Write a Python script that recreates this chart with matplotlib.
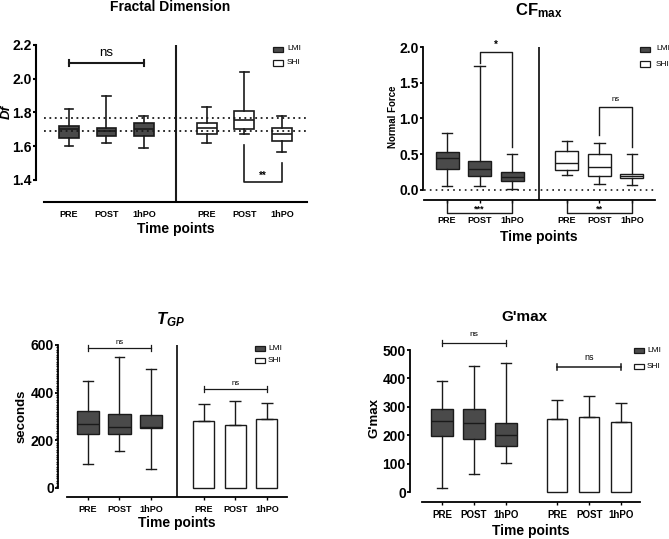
import numpy as np
import matplotlib
matplotlib.use("Agg")
import matplotlib.pyplot as plt
from matplotlib.patches import Rectangle

plt.rcParams['font.family'] = ['Liberation Sans', 'DejaVu Sans']
plt.rcParams['mathtext.fontset'] = 'custom'
plt.rcParams['mathtext.rm'] = 'Liberation Sans:bold'
plt.rcParams['mathtext.it'] = 'Liberation Sans:italic:bold'
plt.rcParams['mathtext.bf'] = 'Liberation Sans:bold'

W, H = 669, 539
DARK = '#4a4a4a'
LINE = '#1a1a1a'
PX = 0.72  # points per pixel at dpi 100

timepoints = ['PRE', 'POST', '1hPO']
groups = ['LMI', 'SHI']

# ---------------- data ----------------
# Fractal dimension: box stats (whislo, q1, med, q3, whishi)
df_lmi_lo = [1.60, 1.62, 1.59]
df_lmi_q1 = [1.65, 1.66, 1.66]
df_lmi_med = [1.70, 1.69, 1.70]
df_lmi_q3 = [1.72, 1.71, 1.74]
df_lmi_hi = [1.82, 1.90, 1.78]
df_shi_lo = [1.62, 1.675, 1.565]
df_shi_q1 = [1.675, 1.70, 1.63]
df_shi_med = [1.71, 1.755, 1.67]
df_shi_q3 = [1.74, 1.81, 1.71]
df_shi_hi = [1.835, 2.04, 1.78]
df_ref_lines = [1.77, 1.69]

# CFmax
cf_lmi_lo = [0.06, 0.06, 0.02]
cf_lmi_q1 = [0.30, 0.20, 0.12]
cf_lmi_med = [0.45, 0.30, 0.18]
cf_lmi_q3 = [0.53, 0.40, 0.25]
cf_lmi_hi = [0.80, 1.73, 0.50]
cf_shi_lo = [0.21, 0.09, 0.07]
cf_shi_q1 = [0.28, 0.20, 0.17]
cf_shi_med = [0.38, 0.32, 0.20]
cf_shi_q3 = [0.54, 0.50, 0.22]
cf_shi_hi = [0.69, 0.66, 0.51]

# TGP
tgp_lmi_lo = [100, 155, 80]
tgp_lmi_q1 = [228, 228, 252]
tgp_lmi_med = [270, 255, 258]
tgp_lmi_q3 = [325, 310, 308]
tgp_lmi_hi = [450, 550, 500]
tgp_shi_mean = [280, 265, 290]
tgp_shi_err = [73, 98, 68]

# G'max
g_lmi_lo = [13, 62, 103]
g_lmi_q1 = [197, 187, 163]
g_lmi_med = [250, 242, 200]
g_lmi_q3 = [292, 293, 243]
g_lmi_hi = [390, 443, 455]
g_shi_mean = [258, 263, 248]
g_shi_err = [65, 74, 67]


def fx(x):
    return x / W


def fy(y):
    return 1 - y / H


def add_ax(x0, y0, x1, y1):
    return fig.add_axes([fx(x0), fy(y1), (x1 - x0) / W, (y1 - y0) / H])


def stats(lo, q1, med, q3, hi):
    return [dict(whislo=a, q1=b, med=c, q3=d, whishi=e, fliers=[])
            for a, b, c, d, e in zip(lo, q1, med, q3, hi)]


def boxes(ax, st, pos, width, face, lw=1.0):
    ax.bxp(st, positions=pos, widths=width, patch_artist=True, showfliers=False,
           boxprops=dict(facecolor=face, edgecolor=LINE, linewidth=lw),
           medianprops=dict(color=LINE, linewidth=lw),
           whiskerprops=dict(color=LINE, linewidth=lw),
           capprops=dict(color=LINE, linewidth=lw),
           capwidths=width * 0.45, manage_ticks=False)


def style(ax, left_out_px, ybounds, lw=1.3):
    for s in ['top', 'right']:
        ax.spines[s].set_visible(False)
    ax.spines['left'].set_position(('outward', left_out_px * PX))
    ax.spines['left'].set_bounds(*ybounds)
    ax.spines['left'].set_linewidth(lw)
    ax.spines['bottom'].set_linewidth(lw)
    ax.tick_params(axis='y', direction='out', length=2.5, width=lw, pad=0.5)
    ax.tick_params(axis='x', direction='out', length=2.5, width=1.0, pad=3)
    for t in ax.get_yticklabels():
        t.set_fontweight('bold')
    ax.patch.set_alpha(0)


def legend(xp, y1, y2, tx, fs=6):
    for y, fc, lab in [(y1, DARK, groups[0]), (y2, 'white', groups[1])]:
        fig.add_artist(Rectangle((fx(xp), fy(y + 2.5)), 10 / W, 5 / H,
                                 transform=fig.transFigure, facecolor=fc,
                                 edgecolor=LINE, linewidth=0.9))
        fig.text(fx(tx), fy(y), lab, fontsize=fs, va='center', ha='left')


def bracket_h(ax, x1, x2, y, cap, lw=1.0):
    ax.plot([x1, x2], [y, y], color=LINE, lw=lw, clip_on=False)
    ax.plot([x1, x1], [y - cap, y + cap], color=LINE, lw=lw, clip_on=False)
    ax.plot([x2, x2], [y - cap, y + cap], color=LINE, lw=lw, clip_on=False)


fig = plt.figure(figsize=(W / 100, H / 100), dpi=100)

# ================= Panel 1: Fractal Dimension =================
ax1 = add_ax(44, 45, 307, 202)
g1 = 3.68
p1l = np.arange(3)
p1s = np.arange(3) + g1
boxes(ax1, stats(df_lmi_lo, df_lmi_q1, df_lmi_med, df_lmi_q3, df_lmi_hi), p1l, 0.53, DARK, 1.2)
boxes(ax1, stats(df_shi_lo, df_shi_q1, df_shi_med, df_shi_q3, df_shi_hi), p1s, 0.53, 'white', 1.2)
for v in df_ref_lines:
    ax1.axhline(v, color=LINE, lw=1.3, ls=(0, (1, 2)), zorder=5)
ax1.axvline(2.853, color=LINE, lw=1.5)
ax1.set_xlim(-0.667, 6.35)
ax1.set_ylim(1.2696, 2.2)
ax1.set_yticks([1.4, 1.6, 1.8, 2.0, 2.2])
ax1.set_yticklabels(['1.4', '1.6', '1.8', '2.0', '2.2'], fontsize=9.3, fontweight='bold')
ax1.set_xticks(np.concatenate([p1l, p1s]))
ax1.set_xticklabels(timepoints * 2, fontsize=6.5, fontweight='bold')
style(ax1, 8, (1.4, 2.2), 1.5)
ax1.tick_params(axis='x', length=0, pad=6)
bracket_h(ax1, p1l[0], p1l[2], 2.093, 0.018, 1.5)
ax1.text(1, 2.153, 'ns', ha='center', va='center', fontsize=9.5)
ax1.plot([p1s[1], p1s[1], p1s[2], p1s[2]], [1.607, 1.39, 1.39, 1.50], color=LINE, lw=1.2)
ax1.text((p1s[1] + p1s[2]) / 2, 1.425, '**', ha='center', va='center', fontsize=7, fontweight='bold')
fig.text(fx(170), fy(7), 'Fractal Dimension', ha='center', va='center', fontsize=10, fontweight='bold')
fig.text(fx(6.5), fy(112), 'Df', ha='center', va='center', rotation=90, fontsize=9.5,
         fontweight='bold', fontstyle='italic')
fig.text(fx(176), fy(229), 'Time points', ha='center', va='center', fontsize=10, fontweight='bold')
legend(273, 49, 63, 287)

# ================= Panel 2: CFmax =================
ax2 = add_ax(424, 47, 655, 200)
g2 = 3.69
p2l = np.arange(3)
p2s = np.arange(3) + g2
boxes(ax2, stats(cf_lmi_lo, cf_lmi_q1, cf_lmi_med, cf_lmi_q3, cf_lmi_hi), p2l, 0.71, DARK, 1.0)
boxes(ax2, stats(cf_shi_lo, cf_shi_q1, cf_shi_med, cf_shi_q3, cf_shi_hi), p2s, 0.71, 'white', 1.0)
ax2.axhline(0, color=LINE, lw=1.2, ls=(0, (1, 2.5)), zorder=5)
ax2.axvline(2.83, color=LINE, lw=1.3)
ax2.set_xlim(-0.71, 6.4)
ax2.set_ylim(-0.14, 2.0)
ax2.set_yticks([0, 0.5, 1.0, 1.5, 2.0])
ax2.set_yticklabels(['0.0', '0.5', '1.0', '1.5', '2.0'], fontsize=8.6, fontweight='bold')
ax2.set_xticks(np.concatenate([p2l, p2s]))
ax2.set_xticklabels(timepoints * 2, fontsize=6.5, fontweight='bold')
style(ax2, 1, (0, 2.0), 1.3)
ax2.tick_params(axis='x', length=2.5, pad=9)
ax2.plot([p2l[1], p2l[1], p2l[2], p2l[2]], [1.78, 1.93, 1.93, 0.60], color=LINE, lw=1.0)
ax2.text(1.5, 2.03, '*', ha='center', va='center', fontsize=7, fontweight='bold')
ax2.plot([p2s[1], p2s[1], p2s[2], p2s[2]], [0.77, 1.16, 1.16, 0.60], color=LINE, lw=1.0)
ax2.text(p2s[1] + 0.5, 1.26, 'ns', ha='center', va='center', fontsize=5.5)
for pp, lab in [(p2l, '***'), (p2s, '**')]:
    ax2.plot([pp[0], pp[0], pp[2], pp[2]], [-0.14, -0.32, -0.32, -0.14], color=LINE, lw=1.0,
             clip_on=False)
    ax2.text(pp[1], -0.265, lab, ha='center', va='center', fontsize=6.5, fontweight='bold')
fig.text(fx(539), fy(11), r'$\mathrm{CF_{max}}$', ha='center', va='center', fontsize=12)
fig.text(fx(393), fy(117), 'Normal Force', ha='center', va='center', rotation=90,
         fontsize=7.0, fontweight='bold')
fig.text(fx(539), fy(237), 'Time points', ha='center', va='center', fontsize=10, fontweight='bold')
legend(640, 49, 64, 656)

# ================= Panel 3: TGP =================
ax3 = add_ax(67, 345, 287, 497)
g3 = 3.68
p3l = np.arange(3)
p3s = np.arange(3) + g3
boxes(ax3, stats(tgp_lmi_lo, tgp_lmi_q1, tgp_lmi_med, tgp_lmi_q3, tgp_lmi_hi), p3l, 0.70, DARK, 1.0)
ax3.bar(p3s, tgp_shi_mean, width=0.67, color='white', edgecolor=LINE, linewidth=1.0,
        yerr=[np.zeros(3), tgp_shi_err], capsize=4.5,
        error_kw=dict(ecolor=LINE, elinewidth=1.0, capthick=1.0))
ax3.axvline(2.83, color=LINE, lw=1.3)
ax3.set_xlim(-0.667, 6.32)
ax3.set_ylim(-37.8, 600)
ax3.set_yticks([0, 200, 400, 600])
ax3.set_yticklabels(['0', '200', '400', '600'], fontsize=9, fontweight='bold')
ax3.set_yticks(np.arange(0, 601, 10), minor=True)
ax3.set_xticks(np.concatenate([p3l, p3s]))
ax3.set_xticklabels(timepoints * 2, fontsize=6.5, fontweight='bold')
style(ax3, 9, (0, 600), 1.3)
ax3.tick_params(axis='y', which='minor', length=1.6, width=1.0)
bracket_h(ax3, p3l[0], p3l[2], 587, 12, 0.9)
ax3.text(1, 612, 'ns', ha='center', va='center', fontsize=5.5)
bracket_h(ax3, p3s[0], p3s[2], 415, 12, 0.9)
ax3.text(p3s[1], 440, 'ns', ha='center', va='center', fontsize=5.5)
fig.text(fx(170), fy(320), r'$T_{GP}$', ha='center', va='center', fontsize=12)
fig.text(fx(22), fy(416), 'seconds', ha='center', va='center', rotation=90,
         fontsize=9.5, fontweight='bold')
fig.text(fx(177), fy(523), 'Time points', ha='center', va='center', fontsize=10, fontweight='bold')
legend(255, 348, 360, 268)

# ================= Panel 4: G'max =================
ax4 = add_ax(422, 350, 640, 502)
g4 = 3.6
p4l = np.arange(3)
p4s = np.arange(3) + g4
boxes(ax4, stats(g_lmi_lo, g_lmi_q1, g_lmi_med, g_lmi_q3, g_lmi_hi), p4l, 0.67, DARK, 1.0)
ax4.bar(p4s, g_shi_mean, width=0.64, color='white', edgecolor=LINE, linewidth=1.0,
        yerr=[np.zeros(3), g_shi_err], capsize=4.5,
        error_kw=dict(ecolor=LINE, elinewidth=1.0, capthick=1.0))
ax4.set_xlim(-0.625, 6.19)
ax4.set_ylim(-35.2, 500)
ax4.set_yticks([0, 100, 200, 300, 400, 500])
ax4.set_yticklabels(['0', '100', '200', '300', '400', '500'], fontsize=9, fontweight='bold')
ax4.set_xticks(np.concatenate([p4l, p4s]))
ax4.set_xticklabels(timepoints * 2, fontsize=7, fontweight='bold')
style(ax4, 12, (0, 500), 1.3)
bracket_h(ax4, p4l[0], p4l[2], 525, 11, 0.9)
ax4.text(1, 553, 'ns', ha='center', va='center', fontsize=6)
bracket_h(ax4, p4s[0], p4s[2], 440, 11, 1.1)
ax4.text(p4s[1], 472, 'ns', ha='center', va='center', fontsize=6.5)
fig.text(fx(524), fy(317), "G'max", ha='center', va='center', fontsize=11, fontweight='bold')
fig.text(fx(374), fy(418), "G'max", ha='center', va='center', rotation=90,
         fontsize=9.5, fontweight='bold')
fig.text(fx(531), fy(531), 'Time points', ha='center', va='center', fontsize=10, fontweight='bold')
legend(634, 350, 366, 647)

fig.savefig('out.png', dpi=100)
